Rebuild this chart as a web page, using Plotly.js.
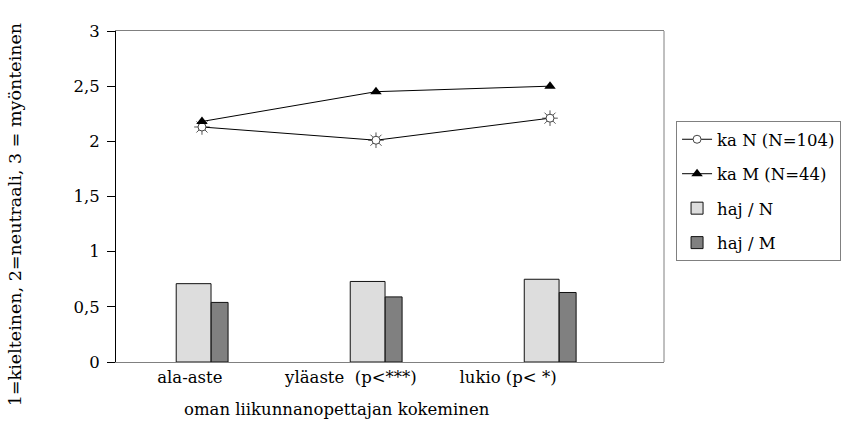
<!DOCTYPE html>
<html>
<head>
<meta charset="utf-8">
<script src="https://cdn.plot.ly/plotly-3.0.1.min.js"></script>
<style>
  html, body { margin: 0; padding: 0; background: #fff; }
  #chart { width: 854px; height: 436px; }
</style>
</head>
<body>
<div id="chart"></div>
<script>
// School levels on the x axis
const categories = ['ala-aste', 'yläaste\u00a0\u00a0(p<***)', 'lukio (p< *)'];
// Means (lines) and standard deviations (bars)
const kaN = [2.13, 2.01, 2.21];
const kaM = [2.18, 2.45, 2.50];
const hajN = [0.71, 0.73, 0.75];
const hajM = [0.54, 0.59, 0.63];
const yTicks = [0, 0.5, 1, 1.5, 2, 2.5, 3];

const pos = categories.map((_, i) => i);
const FONT = '"DejaVu Serif", serif';
const FS = 16.5;

const traces = [
  // bars: light (N) left of centre, dark (M) right next to it
  {
    type: 'bar', name: 'haj / N', x: pos, y: hajN,
    width: 0.2, offset: -0.148,
    marker: { color: '#dddddd', line: { color: '#111', width: 1 } },
    legendrank: 3, legendgroup: 'c', hoverinfo: 'skip'
  },
  {
    type: 'bar', name: 'haj / M', x: pos, y: hajM,
    width: 0.097, offset: 0.053,
    marker: { color: '#808080', line: { color: '#111', width: 1 } },
    legendrank: 4, legendgroup: 'd', hoverinfo: 'skip'
  },
  // rays of the sun-shaped marker
  {
    type: 'scatter', mode: 'markers', x: pos, y: kaN, showlegend: false,
    marker: { symbol: 'asterisk-open', size: 13, color: '#555', line: { color: '#555', width: 1 } },
    hoverinfo: 'skip'
  },
  {
    type: 'scatter', mode: 'lines+markers', name: 'ka N (N=104)', x: pos, y: kaN,
    line: { color: '#000', width: 1 },
    marker: { symbol: 'circle', size: 8, color: '#fff', line: { color: '#444', width: 1 } },
    legendrank: 1, legendgroup: 'a', hoverinfo: 'skip'
  },
  {
    type: 'scatter', mode: 'lines+markers', name: 'ka M (N=44)', x: pos, y: kaM,
    line: { color: '#000', width: 1 },
    marker: { symbol: 'triangle-up', size: 10, color: '#000' },
    legendrank: 2, legendgroup: 'b', hoverinfo: 'skip'
  }
];

const layout = {
  width: 854, height: 436,
  margin: { l: 116, r: 190, t: 31, b: 74, pad: 0 },
  paper_bgcolor: '#fff', plot_bgcolor: '#fff',
  separators: ', ',
  font: { family: FONT, size: FS, color: '#000' },
  barmode: 'overlay',
  showlegend: true,
  legend: {
    x: 1.022, y: 0.728, xanchor: 'left', yanchor: 'top',
    bordercolor: '#808080', borderwidth: 1, bgcolor: '#fff',
    font: { family: FONT, size: FS, color: '#000' },
    traceorder: 'grouped', tracegroupgap: 10, itemwidth: 30
  },
  xaxis: {
    type: 'linear', range: [-0.494, 2.655],
    tickvals: [-0.07, 0.856, 1.759], ticktext: categories,
    ticks: '', showgrid: false, zeroline: false,
    showline: true, linecolor: '#808080', linewidth: 1, mirror: true,
    tickfont: { family: FONT, size: FS }
  },
  yaxis: {
    range: [0, 3], tickvals: yTicks,
    ticks: 'outside', ticklen: 8, tickcolor: '#000', tickwidth: 1,
    ticklabelstandoff: 4,
    showgrid: false, zeroline: false,
    showline: true, linecolor: '#000', linewidth: 1,
    tickfont: { family: FONT, size: FS }
  },
  shapes: [
    { type: 'line', xref: 'paper', yref: 'paper', x0: 1, x1: 1, y0: 0, y1: 1,
      line: { color: '#808080', width: 1 } }
  ],
  annotations: [
    { text: '1=kielteinen, 2=neutraali, 3 = myönteinen', textangle: -90,
      xref: 'paper', yref: 'paper', x: -0.184, y: 0.444,
      xanchor: 'center', yanchor: 'middle', showarrow: false,
      font: { family: FONT, size: 17.5 } },
    { text: 'oman liikunnanopettajan kokeminen',
      xref: 'paper', yref: 'paper', x: 0.404, y: -0.145,
      xanchor: 'center', yanchor: 'middle', showarrow: false,
      font: { family: FONT, size: FS } }
  ]
};

Plotly.newPlot('chart', traces, layout, { displayModeBar: false, staticPlot: true });
</script>
</body>
</html>
